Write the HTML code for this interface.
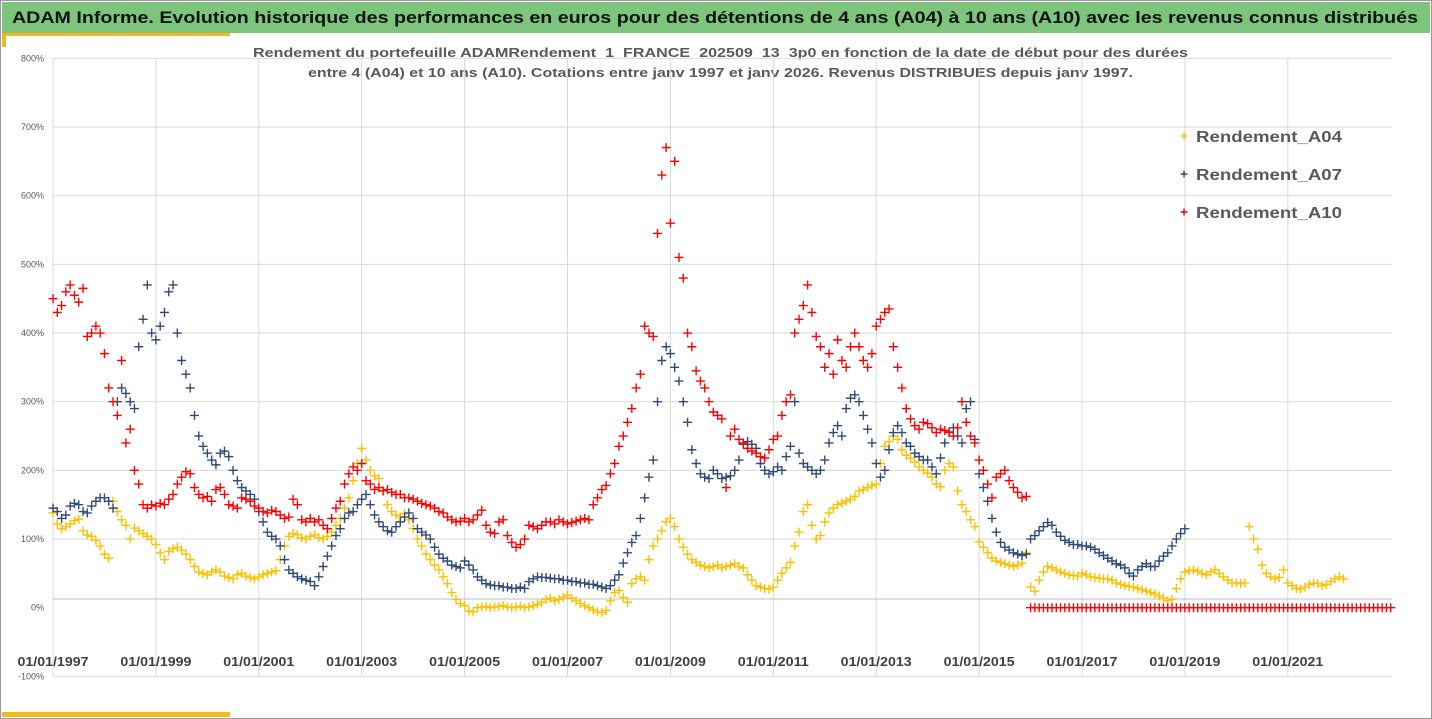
<!DOCTYPE html>
<html><head><meta charset="utf-8"><style>
html,body{margin:0;padding:0;background:#fff;}
svg{display:block;font-family:"Liberation Sans",sans-serif;}
</style></head><body>
<svg id="chart" width="1432" height="719" viewBox="0 0 1432 719" xmlns="http://www.w3.org/2000/svg">
<rect x="0.5" y="0.5" width="1431" height="718" fill="#fff" stroke="#9a9a9a"/>
<rect x="2" y="2" width="1428" height="31" fill="#7dc57d"/>
<rect x="2" y="33" width="228" height="3" fill="#f0b823"/>
<rect x="2" y="33" width="4" height="14" fill="#f0b823"/>
<rect x="2" y="712" width="228" height="5" fill="#f0b823"/>
<text x="12" y="23" font-size="17" font-weight="bold" fill="#111" textLength="1406" lengthAdjust="spacingAndGlyphs">ADAM Informe. Evolution historique des performances en euros pour des détentions de 4 ans (A04) à 10 ans (A10) avec les revenus connus distribués</text>
<text x="253" y="57" font-size="13" font-weight="bold" fill="#595959" textLength="935" lengthAdjust="spacingAndGlyphs">Rendement du portefeuille ADAMRendement_1_FRANCE_202509_13_3p0  en fonction de la date de début pour des durées</text>
<text x="308" y="77" font-size="13" font-weight="bold" fill="#595959" textLength="825" lengthAdjust="spacingAndGlyphs">entre 4 (A04) et 10 ans (A10). Cotations entre janv 1997 et janv 2026. Revenus DISTRIBUES depuis janv 1997.</text>
<g id="grid"></g>
<g id="axes"></g>
<g id="marks"></g>
<g id="legend"></g>
</svg>
<script>
const yTicks = [800,700,600,500,400,300,200,100,0,-100];
const xTickYears = [1997,1999,2001,2003,2005,2007,2009,2011,2013,2015,2017,2019,2021];
const seriesNames = ["Rendement_A04","Rendement_A07","Rendement_A10"];
const startYear = 1997;
const A04 = [
138,122,115,118,122,127,129,112,106,104,98,90,
78,72,155,140,128,120,100,116,112,108,104,100,
92,80,70,82,86,88,84,78,70,60,52,50,
48,52,55,52,46,44,42,48,50,46,44,42,
45,48,50,52,54,70,90,104,108,106,102,100,
104,106,102,100,104,110,120,130,145,160,185,210,
232,215,200,192,188,170,150,140,135,132,137,128,
115,100,90,78,70,62,55,45,35,22,12,6,
3,-5,-6,0,1,2,0,1,2,3,1,0,
1,2,0,1,3,5,8,12,14,10,12,15,
18,14,10,6,3,0,-3,-6,-7,-4,10,22,
25,15,8,35,42,45,40,70,90,100,112,125,
130,118,100,88,78,70,66,62,60,58,60,62,
58,60,62,64,60,58,48,40,32,30,28,27,
30,40,50,58,66,90,110,140,150,120,100,105,
125,138,145,150,152,155,158,162,170,172,175,178,
180,210,235,242,250,245,230,222,218,212,205,200,
196,190,180,176,200,210,205,170,150,140,128,118,
96,88,80,72,68,66,64,62,60,62,65,80,
30,24,40,52,60,58,55,52,50,48,47,46,
50,48,45,44,43,42,42,40,36,34,32,31,
30,28,26,24,22,20,17,14,10,12,28,42,
52,54,55,53,50,48,52,55,50,45,40,36,
36,35,36,118,100,85,62,50,45,42,44,55,
36,32,28,27,30,34,36,35,32,34,38,42,
45,42];
const A07 = [
145,140,130,135,148,152,150,140,138,148,155,160,
160,155,145,300,320,312,300,290,380,420,470,400,
390,410,430,460,470,400,360,340,320,280,250,235,
225,215,208,225,228,220,200,185,175,170,165,158,
140,125,110,104,100,90,70,55,50,45,42,40,
38,32,45,60,75,90,105,115,130,138,140,150,
158,165,150,135,125,118,112,110,118,125,132,138,
130,115,110,106,100,88,78,72,68,62,60,58,
68,62,55,45,40,35,33,32,32,30,30,28,
28,30,28,38,42,45,44,44,43,42,42,40,
40,38,38,36,36,34,34,32,30,28,32,40,
48,65,80,95,105,130,160,190,215,300,360,380,
370,350,330,300,270,230,210,195,190,188,200,195,
188,190,192,200,215,238,242,238,232,210,200,195,
198,205,200,220,235,300,225,210,205,200,195,200,
215,240,255,265,250,290,305,310,300,280,260,240,
210,190,200,230,255,265,255,240,235,225,220,215,
215,205,195,218,240,255,262,250,240,290,300,245,
195,175,155,130,110,95,88,84,80,78,76,78,
100,105,112,118,124,120,110,104,98,95,92,92,
90,90,88,85,80,76,72,68,64,62,58,50,
46,55,60,64,60,60,68,75,80,90,100,108,
115];
const A10 = [
450,430,440,460,470,455,445,465,395,400,410,400,
370,320,300,280,360,240,260,200,180,150,145,150,
148,152,150,158,165,180,190,198,195,175,165,160,
162,155,172,175,165,150,148,145,160,158,155,148,
145,140,138,142,140,135,130,132,158,150,128,125,
130,125,128,120,115,130,145,155,180,195,205,200,
210,185,180,172,175,170,172,168,165,165,160,160,
158,155,152,150,148,145,140,138,132,128,125,126,
130,125,128,135,142,120,110,108,125,128,105,95,
88,92,100,120,118,115,120,125,125,122,128,125,
122,124,126,128,130,128,150,160,172,178,195,210,
235,250,270,290,320,340,410,400,395,545,630,670,
560,650,510,480,400,380,345,330,320,300,285,280,
275,175,250,260,245,240,232,228,225,220,218,230,
245,250,280,300,310,400,420,440,470,430,395,380,
350,370,340,390,360,350,380,400,380,360,350,370,
410,420,430,435,380,350,320,290,275,265,260,270,
268,262,255,260,258,256,250,262,300,270,250,240,
215,200,180,160,190,195,200,185,175,168,160,162,
0,0,0,0,0,0,0,0,0,0,0,0,
0,0,0,0,0,0,0,0,0,0,0,0,
0,0,0,0,0,0,0,0,0,0,0,0,
0,0,0,0,0,0,0,0,0,0,0,0,
0,0,0,0,0,0,0,0,0,0,0,0,
0,0,0,0,0,0,0,0,0,0,0,0,
0,0,0,0,0,0,0,0,0,0,0,0,
0];

const NS = "http://www.w3.org/2000/svg";
const plotL = 53, plotR = 1392, plotT = 58, plotB = 676;
function xScale(year){ return plotL + (year - startYear) * 51.45; }
function yScale(v){ return 607.7 - v * 0.6867; }
function mk(tag, attrs, parent){ const e = document.createElementNS(NS, tag); for (const k in attrs) e.setAttribute(k, attrs[k]); parent.appendChild(e); return e; }

const grid = document.getElementById('grid');
const axes = document.getElementById('axes');
yTicks.forEach(v => {
  if (v !== 0) {
    const ln = mk('line', {x1: plotL, x2: plotR, y1: yScale(v), y2: yScale(v), stroke: '#d9d9d9', 'stroke-width': 1}, grid);
    
    
  }
  const t = mk('text', {x: 44, y: yScale(v) + 3, 'font-size': 9, fill: '#595959', 'text-anchor': 'end'}, axes);
  
  
  t.textContent = v + '%';
});
xTickYears.forEach(yr => {
  const x = xScale(yr);
  if (yr !== startYear) {
    const ln = mk('line', {x1: x, x2: x, y1: plotT, y2: plotB, stroke: '#d9d9d9', 'stroke-width': 1}, grid);
    
    
  }
  const t = mk('text', {x: x, y: 666, 'font-size': 13, 'font-weight': 'bold', fill: '#404040', 'text-anchor': 'middle', textLength: 71, lengthAdjust: 'spacingAndGlyphs'}, axes);
  
  
  t.textContent = '01/01/' + yr;
});
const yAxis = mk('line', {x1: plotL, x2: plotL, y1: plotT, y2: plotB, stroke: '#d9d9d9', 'stroke-width': 1}, axes);


const xAxis = mk('line', {x1: plotL, x2: plotR, y1: 599, y2: 599, stroke: '#bfbfbf', 'stroke-width': 1}, axes);



const colors = ['#ffc000', '#2f4b7c', '#ff0000'];
const marks = document.getElementById('marks');
function cross(cx, cy, col, s, parent){
  return mk('path', {d: `M${cx-s},${cy}H${cx+s}M${cx},${cy-s}V${cy+s}`, stroke: col, 'stroke-width': 1.4, fill: 'none'}, parent);
}
[A04, A07, A10].forEach((arr, si) => {
  const g = mk('g', {}, marks);
  
  
  arr.forEach((v, i) => {
    const p = cross(xScale(startYear + i / 12), yScale(v), colors[si], 4.5, g);
    
    
  });
});

const legend = document.getElementById('legend');
seriesNames.forEach((n, i) => {
  const y = 136 + i * 38;
  const c = cross(1184, y, colors[i], 3.5, legend);
  
  
  const t = mk('text', {x: 1196, y: y + 6, 'font-size': 16, 'font-weight': 'bold', fill: '#595959', textLength: 146, lengthAdjust: 'spacingAndGlyphs'}, legend);
  
  
  t.textContent = n;
});
</script>
</body></html>
